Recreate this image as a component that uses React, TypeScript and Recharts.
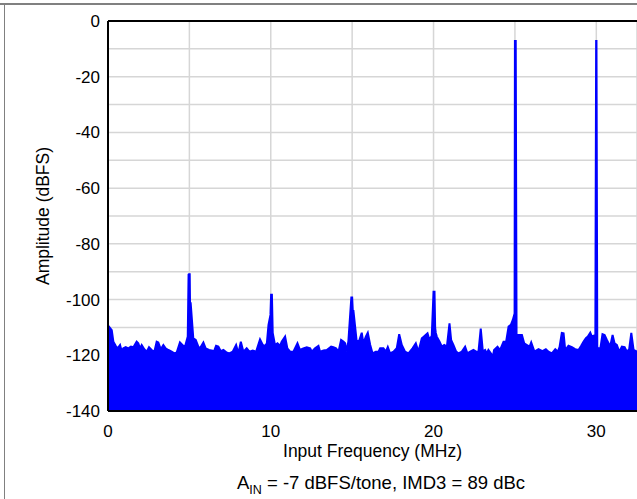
import React from 'react';
import {
  ComposedChart,
  Area,
  XAxis,
  YAxis,
  CartesianGrid,
  ReferenceLine,
} from 'recharts';

// noise floor envelope (MHz, dBFS)
const noiseFreq = [
  0, 0.06, 0.23, 0.33, 0.47, 0.59, 0.74, 0.84, 0.94, 1.09, 1.25, 1.41, 1.56, 1.76, 1.86, 1.97,
  2.07, 2.23, 2.38, 2.52, 2.68, 2.85, 2.99, 3.09, 3.24, 3.4, 3.54, 3.71, 3.91, 4.08, 4.22, 4.42,
  4.57, 4.73, 4.9, 5.24, 5.39, 5.55, 5.65, 5.86, 6.0, 6.21, 6.41, 6.48, 6.64, 6.78, 6.93, 7.09,
  7.29, 7.46, 7.66, 7.87, 8.01, 8.16, 8.32, 8.52, 8.69, 8.89, 9.1, 9.34, 9.51, 9.65, 9.76, 9.86,
  10.26, 10.41, 10.57, 10.67, 10.88, 11.02, 11.19, 11.39, 11.64, 11.8, 12.0, 12.21, 12.42, 12.52,
  12.72, 12.93, 13.03, 13.24, 13.44, 13.71, 13.85, 14.01, 14.16, 14.32, 14.46, 14.57, 14.67,
  14.77, 15.28, 15.43, 15.59, 15.69, 15.84, 15.96, 16.11, 16.25, 16.45, 16.62, 16.72, 16.92,
  17.07, 17.19, 17.33, 17.54, 17.74, 17.89, 18.05, 18.25, 18.46, 18.71, 18.91, 19.07, 19.28,
  19.36, 19.63, 19.75, 19.89, 20.2, 20.37, 20.51, 20.66, 20.82, 20.98, 21.08, 21.22, 21.39,
  21.53, 21.74, 21.94, 22.08, 22.25, 22.45, 22.62, 22.76, 22.9, 23.03, 23.17, 23.27, 23.37,
  23.52, 23.64, 23.72, 23.93, 24.09, 24.3, 24.46, 24.61, 24.75, 24.87, 25.22, 25.43, 25.57,
  25.74, 25.9, 26.0, 26.2, 26.45, 26.69, 26.9, 27.06, 27.27, 27.48, 27.64, 27.74, 27.88, 27.99,
  28.09, 28.29, 28.5, 28.7, 28.91, 29.07, 29.22, 29.36, 29.48, 29.63, 29.73, 29.84, 29.94,
  30.25, 30.38, 30.51, 30.65, 30.75, 30.85, 31.0, 31.12, 31.26, 31.41, 31.57, 31.74, 31.88,
  32.02, 32.15, 32.29, 32.5,
];
const noiseDb = [
  -110, -109.7, -111, -115.1, -116.6, -117.5, -116.3, -118.5, -117.5, -117.1, -117.5, -116.9,
  -117.1, -115.1, -115.7, -117.5, -116.3, -117.8, -118.7, -117.1, -118.1, -118.7, -115.1, -115.4,
  -117.8, -116.3, -117.5, -118.1, -118.7, -119.3, -119.0, -115.4, -116.3, -116.9, -113.3, -113.9,
  -114.5, -116.9, -117.5, -115.4, -117.5, -118.1, -118.3, -119.0, -116.6, -116.9, -118.5, -118.1,
  -119.0, -119.3, -118.7, -116.3, -119.3, -115.1, -118.7, -117.5, -118.7, -118.3, -118.7, -114.3,
  -116.3, -116.6, -115.7, -109.1, -116.3, -115.7, -116.6, -115.1, -113.3, -117.5, -118.7, -118.7,
  -115.7, -118.1, -117.5, -117.1, -117.5, -118.7, -117.5, -116.6, -118.7, -118.3, -118.1, -116.9,
  -117.1, -117.5, -118.7, -114.5, -115.1, -115.7, -118.7, -114.8, -115.1, -114.8, -111.9, -115.7,
  -113.3, -111.9, -116.3, -119.3, -118.7, -118.7, -117.5, -117.5, -118.7, -117.0, -119.3, -118.7,
  -117.5, -112.4, -116.3, -118.7, -119.3, -117.5, -115.7, -118.7, -113.9, -113.5, -112.1, -114.5,
  -113.0, -113.3, -115.1, -116.9, -116.3, -116.9, -108.5, -114.5, -116.3, -118.7, -119.3, -118.7,
  -116.9, -119.3, -118.7, -118.1, -118.7, -118.7, -110.4, -118.7, -118.1, -119.3, -118.1, -119.3,
  -120.5, -118.1, -116.9, -118.1, -115.1, -115.1, -109.7, -109.1, -107.3, -112.7, -112.7, -115.7,
  -116.3, -116.9, -115.4, -118.7, -117.8, -118.5, -117.8, -118.7, -119.3, -117.8, -118.7, -117.1,
  -112.0, -112.1, -118.1, -116.6, -117.1, -117.8, -118.1, -116.6, -115.1, -113.9, -113.3, -111.9,
  -113.3, -113.0, -115.7, -117.5, -112.4, -112.7, -114.5, -115.7, -116.9, -112.7, -115.7, -116.3,
  -118.7, -116.9, -117.1, -118.7, -117.8, -112.0, -118.1, -118.7,
];

// spurs and the two input tones
const spurFreq = [4.95, 4.97, 5.02, 5.04, 5.08, 9.98, 10.02, 10.07, 10.12, 14.95, 15.0, 15.04, 15.08, 20.0, 20.06, 20.1, 20.14, 24.98, 25.0, 25.05, 25.1, 29.99, 30.01, 30.06, 30.1];
const spurDb = [-91, -90.9, -90.9, -101.3, -101.3, -105.5, -98.3, -98.3, -112, -99.3, -99.3, -104.1, -104.1, -97.2, -97.2, -110.2, -112, -105, -7.2, -7.2, -112.7, -7.2, -7.2, -117, -117.5];

const xTicks = [0, 5, 10, 15, 20, 25, 30];
const yTicks = [0, -10, -20, -30, -40, -50, -60, -70, -80, -90, -100, -110, -120, -130, -140];

const data = [
  ...noiseFreq.map((f, i) => ({ f, db: noiseDb[i] })),
  ...spurFreq.map((f, i) => ({ f, db: spurDb[i] })),
].sort((a, b) => a.f - b.f);

const font = '"Liberation Sans", Arial, sans-serif';
const tickStyle = { fill: '#000', fontSize: 17, fontFamily: font };

export default function App() {
  return (
    <div
      style={{
        position: 'absolute',
        left: 0,
        top: 0,
        width: 637,
        height: 499,
        overflow: 'hidden',
        background: '#fff',
        fontFamily: font,
      }}
    >
      <div style={{ position: 'absolute', left: 0, top: 3, width: 637, height: 2, background: '#808080' }} />
      <div style={{ position: 'absolute', left: 4, top: 3, width: 1, height: 496, background: '#808080' }} />
      <ComposedChart
        width={637}
        height={499}
        data={data}
        margin={{ top: 21, right: 0, bottom: 0, left: 0 }}
      >
        <CartesianGrid stroke="#d6d6d6" strokeWidth={1.5} />
        <XAxis
          dataKey="f"
          type="number"
          domain={[0, 32.5]}
          ticks={xTicks}
          allowDataOverflow
          height={88}
          tickLine={false}
          tickMargin={8}
          tick={tickStyle}
          tickFormatter={(v) => (v % 10 === 0 ? String(v) : '')}
          axisLine={{ stroke: '#000', strokeWidth: 2 }}
          label={{
            value: 'Input Frequency (MHz)',
            position: 'insideTop',
            offset: 34,
            style: { fill: '#000', fontSize: 17.5, fontFamily: font },
          }}
        />
        <YAxis
          type="number"
          domain={[-140, 0]}
          ticks={yTicks}
          width={108}
          tickLine={false}
          tick={tickStyle}
          tickFormatter={(v) => (v % 20 === 0 ? String(v) : '')}
          axisLine={{ stroke: '#000', strokeWidth: 2 }}
          label={{
            value: 'Amplitude (dBFS)',
            angle: -90,
            position: 'insideLeft',
            offset: 43,
            style: { textAnchor: 'middle', fill: '#000', fontSize: 17.5, fontFamily: font },
          }}
        />
        <Area
          type="linear"
          dataKey="db"
          baseValue={-140}
          stroke="#0000ff"
          strokeWidth={2}
          fill="#0000ff"
          fillOpacity={1}
          isAnimationActive={false}
          dot={false}
          activeDot={false}
        />
        <ReferenceLine y={0} stroke="#000" strokeWidth={2} />
      </ComposedChart>
      <div
        style={{
          position: 'absolute',
          left: 381,
          top: 473,
          transform: 'translateX(-50%)',
          whiteSpace: 'nowrap',
          fontSize: 18.5,
          lineHeight: '20px',
          color: '#000',
        }}
      >
        A<span style={{ fontSize: 12.5, verticalAlign: -5 }}>IN</span> = -7 dBFS/tone, IMD3 = 89 dBc
      </div>
    </div>
  );
}
